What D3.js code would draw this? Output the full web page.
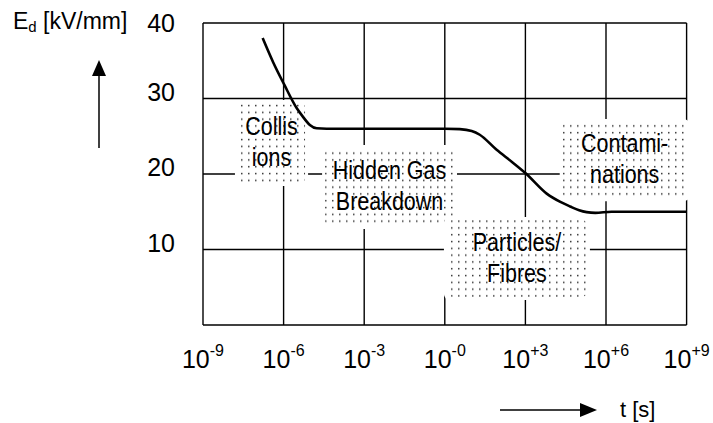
<!DOCTYPE html>
<html><head><meta charset="utf-8">
<script src="https://cdn.jsdelivr.net/npm/d3@7"></script>
<style>
body{margin:0;background:#fff}
svg{display:block}
text{font-family:"Liberation Sans",Arial,Helvetica,sans-serif;fill:#000}
</style>
</head><body>
<svg id="c" width="713" height="423"></svg>
<script>
// ---- data ----
const tickTimes = [1e-9, 1e-6, 1e-3, 1, 1e3, 1e6, 1e9];
const tickExps  = ["-9", "-6", "-3", "-0", "+3", "+6", "+9"];
const yGrid     = [0, 10, 20, 30, 40];
const yLabels   = [10, 20, 30, 40];
const curveT = [1.66e-7, 4.2e-7, 1.07e-6, 3.1e-6, 5.2e-6, 9.5e-6, 1.7e-5, 4e-5, 1e-2, 1, 3.6, 10, 20, 85, 316, 1.02e3, 6.2e3, 2e4, 4.6e4, 1e5, 1.9e5, 4e5, 1.6e6, 1e9];
const curveE = [38.0, 34.7, 31.8, 28.7, 27.6, 26.5, 26.05, 26.0, 26.0, 26.0, 25.95, 25.7, 25.2, 23.2, 21.6, 20.1, 17.4, 16.3, 15.7, 15.2, 14.95, 14.85, 15.0, 15.0];
const regionNames = [["Collis", "ions"], ["Hidden Gas", "Breakdown"], ["Particles/", "Fibres"], ["Contami-", "nations"]];
const regionT0 = [2.0e-8, 3.5e-5, 1.2, 2.45e4];
const regionT1 = [6.3e-6, 2.2, 1.95e5, 1e9];
const regionE0 = [18.8, 13.1, 3.7, 16.8];
const regionE1 = [29.4, 23.44, 13.9, 26.9];
const yTitle = ["E", "d", " [kV/mm]"];
const xTitle = "t [s]";

// ---- drawing ----
const svg = d3.select("#c");
const x = d3.scaleLog().domain([1e-9, 1e9]).range([203, 686.6]);
const y = d3.scaleLinear().domain([0, 40]).range([325, 23]);

const defs = svg.append("defs");
const pat = defs.append("pattern").attr("id", "dots").attr("patternUnits", "userSpaceOnUse")
  .attr("width", 7).attr("height", 6.8);
pat.append("rect").attr("x", 3).attr("y", 2.8).attr("width", 1.5).attr("height", 1.5).attr("fill", "#333");

// grid
const g = svg.append("g");
g.selectAll("line.v").data(tickTimes).join("line")
  .attr("x1", d => x(d)).attr("x2", d => x(d)).attr("y1", y(0)).attr("y2", y(40))
  .attr("stroke", "#000").attr("stroke-width", 1.4);
g.selectAll("line.h").data(yGrid).join("line")
  .attr("x1", x(1e-9)).attr("x2", x(1e9)).attr("y1", d => y(d)).attr("y2", d => y(d))
  .attr("stroke", "#000").attr("stroke-width", 1.4);

// y tick labels
svg.selectAll("text.yl").data(yLabels).join("text")
  .attr("x", 175).attr("y", d => y(d) + (d === 40 ? 9 : 2))
  .attr("text-anchor", "end").attr("font-size", 25).text(d => d);

// x tick labels
const xl = svg.selectAll("text.xl").data(tickTimes).join("text")
  .attr("x", d => x(d)).attr("y", 368).attr("text-anchor", "middle").attr("font-size", 25);
xl.append("tspan").text("10");
xl.append("tspan").attr("font-size", 16).attr("dy", -12).text((d, i) => tickExps[i]);

// regions
const regions = regionNames.map((n, i) => ({n, t0: regionT0[i], t1: regionT1[i], e0: regionE0[i], e1: regionE1[i]}));
const rg = svg.selectAll("g.reg").data(regions).join("g");
rg.append("rect")
  .attr("x", d => x(d.t0) - 3).attr("y", d => y(d.e1) - 3)
  .attr("width", d => x(d.t1) - x(d.t0) + 6).attr("height", d => y(d.e0) - y(d.e1) + 6)
  .attr("rx", 6).attr("fill", "#fff");
rg.append("rect")
  .attr("x", d => x(d.t0)).attr("y", d => y(d.e1))
  .attr("width", d => x(d.t1) - x(d.t0)).attr("height", d => y(d.e0) - y(d.e1))
  .attr("rx", 5).attr("fill", "url(#dots)");
rg.each(function(d) {
  const cx = (x(d.t0) + x(d.t1)) / 2, cy = (y(d.e0) + y(d.e1)) / 2;
  const t = d3.select(this);
  [[d.n[0], cy - 8], [d.n[1], cy + 23]].forEach(([s, by]) => {
    t.append("text").attr("transform", `translate(${cx},${by}) scale(0.86,1)`)
      .attr("text-anchor", "middle").attr("font-size", 25).text(s);
  });
});

// curve
const pts = curveT.map((t, i) => [t, curveE[i]]);
svg.append("path").datum(pts)
  .attr("d", d3.line().x(d => x(d[0])).y(d => y(d[1])).curve(d3.curveMonotoneX))
  .attr("fill", "none").attr("stroke", "#000").attr("stroke-width", 2.6);

// axis titles
const yt = svg.append("text").attr("x", 13).attr("y", 29).attr("font-size", 23);
yt.append("tspan").text(yTitle[0]);
yt.append("tspan").attr("font-size", 15).attr("dy", 3).text(yTitle[1]);
yt.append("tspan").attr("dy", -3).text(yTitle[2]);

svg.append("text").attr("x", 620).attr("y", 417).attr("font-size", 22).text(xTitle);

// arrows
svg.append("line").attr("x1", 99).attr("x2", 99).attr("y1", 74).attr("y2", 148).attr("stroke", "#000").attr("stroke-width", 1.5);
svg.append("path").attr("d", "M99,60 L92,76 L106,76 Z").attr("fill", "#000");
svg.append("line").attr("x1", 500).attr("x2", 583).attr("y1", 410).attr("y2", 410).attr("stroke", "#000").attr("stroke-width", 1.5);
svg.append("path").attr("d", "M597,410 L580,403 L580,417 Z").attr("fill", "#000");
</script>
</body></html>
